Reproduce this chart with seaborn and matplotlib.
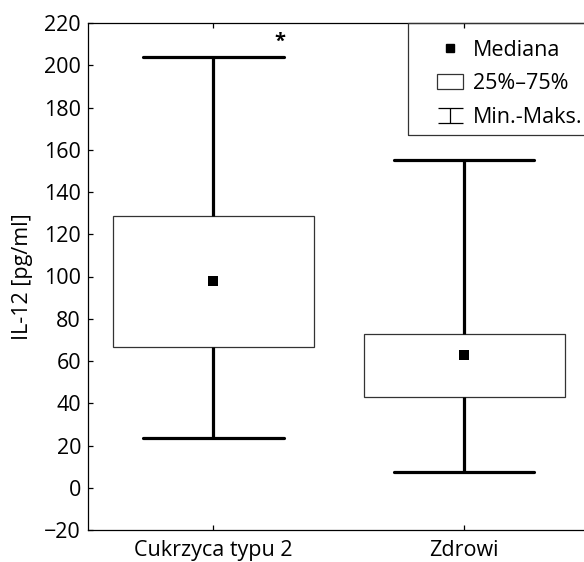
import numpy as np
import pandas as pd
import matplotlib
matplotlib.use("Agg")
import matplotlib.pyplot as plt
import seaborn as sns
from matplotlib.lines import Line2D
from matplotlib.patches import Patch, Rectangle
from matplotlib.path import Path

# ---- data ----
categories = ["Cukrzyca typu 2", "Zdrowi"]
minimum = [23.5, 7.5]
q1 = [66.5, 43.0]
median = [98.0, 63.0]
q3 = [128.5, 73.0]
maximum = [204.0, 155.0]
y_ticks = [-20, 0, 20, 40, 60, 80, 100, 120, 140, 160, 180, 200, 220]
y_label = "IL-12 [pg/ml]"
legend_labels = ["Mediana", "25%–75%", "Min.-Maks."]
significance = "*"

sns.set_style("ticks")
plt.rcParams['font.family'] = ['Open Sans', 'DejaVu Sans']
plt.rcParams.update({"text.color": "black", "axes.labelcolor": "black",
                     "xtick.color": "black", "ytick.color": "black",
                     "axes.edgecolor": "black"})
FS = 15.5

rows = []
for c, a, b, m, d, e in zip(categories, minimum, q1, median, q3, maximum):
    for v in (a, b, m, d, e):
        rows.append({"group": c, "value": v})
df = pd.DataFrame(rows)

fig = plt.figure(figsize=(5.84, 5.62), dpi=100)
W, H = 584, 562
ax = fig.add_axes([88 / W, 32 / H, (589.6 - 88) / W, 507 / H])

sns.boxplot(data=df, x="group", y="value", order=categories, whis=(0, 100),
            width=0.8, ax=ax, showfliers=False, saturation=1,
            boxprops=dict(facecolor="white", edgecolor="#333333", linewidth=0.9),
            whiskerprops=dict(color="black", linewidth=2.3),
            capprops=dict(color="black", linewidth=2.3),
            medianprops=dict(visible=False),
            capwidths=0.56)

sns.stripplot(x=categories, y=median, order=categories, jitter=False, marker="s",
              size=6.5, color="black", linewidth=0, ax=ax, zorder=5)

ax.text(0.265, maximum[0] + 7, significance, ha="center", va="center",
        fontsize=FS - 1, fontweight="bold")

ax.set_ylim(-20, 220)
ax.set_xlim(-0.5, 1.5)
ax.set_yticks(y_ticks)
ax.set_xlabel("")
ax.set_ylabel(y_label, fontsize=FS, labelpad=8)
ax.tick_params(axis="both", direction="in", labelsize=FS, length=3.5, width=0.9, color="black",
               labelcolor="black")
ax.tick_params(axis="x", top=True, pad=7)
ax.tick_params(axis="y", pad=5)
for s in ["left", "bottom", "top"]:
    ax.spines[s].set_linewidth(0.9)
    ax.spines[s].set_color("black")
ax.spines["right"].set_visible(False)

# legend
eb_path = Path([(-1, 0.6), (1, 0.6), (0, 0.6), (0, -0.6), (-1, -0.6), (1, -0.6)],
               [Path.MOVETO, Path.LINETO, Path.MOVETO, Path.LINETO, Path.MOVETO, Path.LINETO])
handles = [
    Line2D([], [], linestyle="none", marker="s", markersize=6, color="black"),
    Patch(facecolor="white", edgecolor="#333333", linewidth=0.9),
    Line2D([], [], linestyle="none", marker=eb_path, markersize=18,
           markeredgecolor="black", markerfacecolor="none", markeredgewidth=0.9),
]
leg = ax.legend(handles, legend_labels, loc="upper left", frameon=False,
                bbox_to_anchor=(437 / W, (H - 40) / H), bbox_transform=fig.transFigure,
                borderpad=0, borderaxespad=0, fontsize=FS, handlelength=1.2,
                handleheight=0.7, handletextpad=0.45, labelspacing=0.58,
                labelcolor="black")
ax.add_patch(Rectangle(((408 - 88) / 501.6, (530 - 135) / 507), 0.5, 1 - (530 - 135) / 507,
                       transform=ax.transAxes, fill=False, edgecolor="#333333",
                       linewidth=0.9, clip_on=False, zorder=6))

fig.savefig("out.png", dpi=100)
